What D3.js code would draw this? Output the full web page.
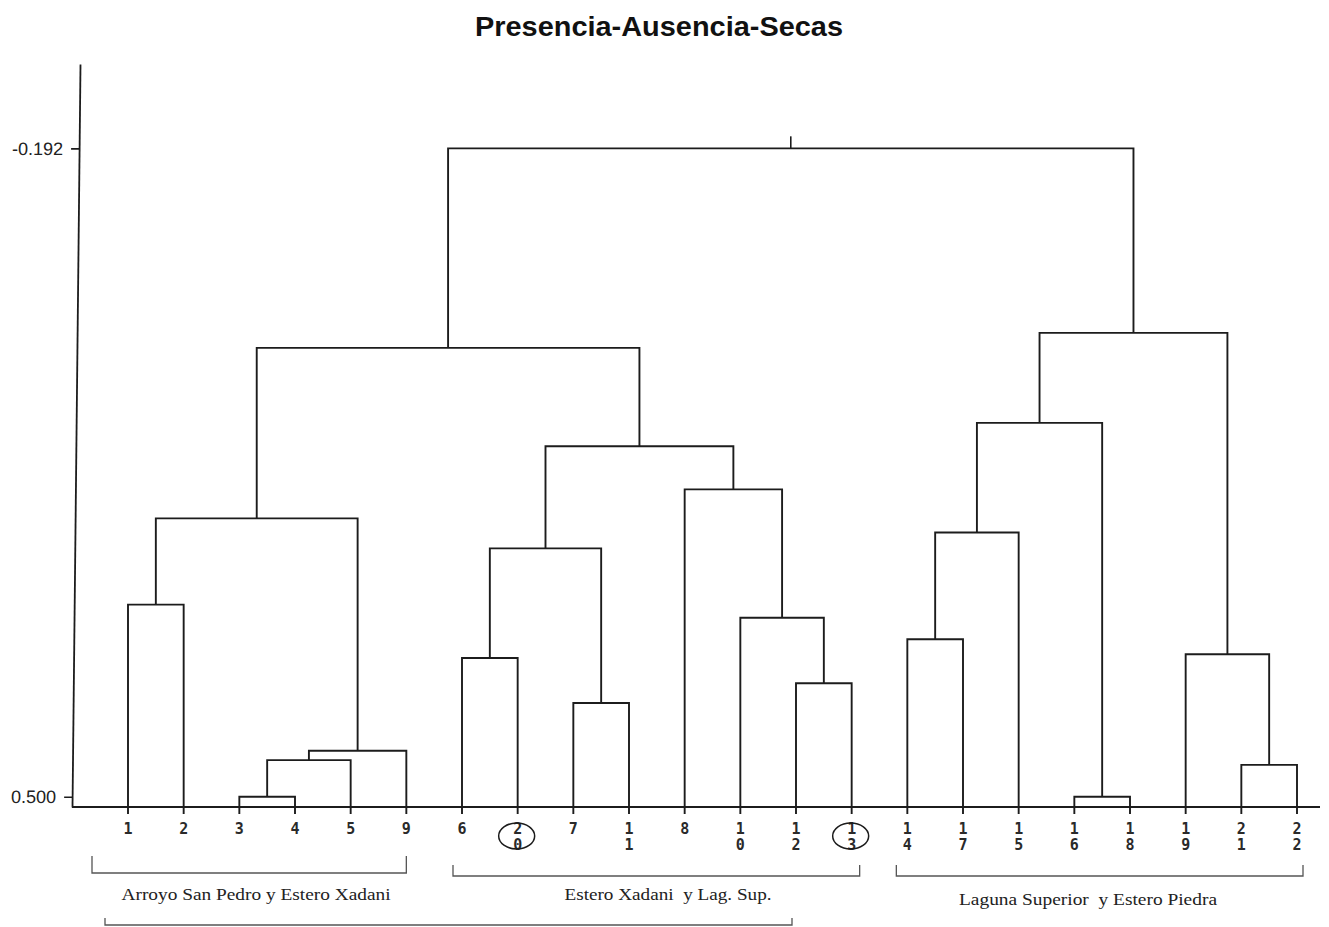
<!DOCTYPE html>
<html>
<head>
<meta charset="utf-8">
<script src="https://cdn.jsdelivr.net/npm/d3@7"></script>
<style>
  html, body { margin: 0; padding: 0; background: #fff; }
  svg { display: block; }
</style>
</head>
<body>
<svg id="chart" width="1329" height="927"></svg>
<script>
// ---------------- DATA ----------------
const chartTitle = "Presencia-Ausencia-Secas";
// leaves in dendrogram order (left to right)
const leafLabels = ["1","2","3","4","5","9","6","20","7","11","8","10","12","13","14","17","15","16","18","19","21","22"];
// linkage: node ids 0..21 are leaves (index in leafLabels), 22+ are merges in this order
const mergeA      = [2,  17, 22, 24, 20, 8,  12, 6,  19, 14, 11, 0,  29, 31, 33, 10, 34, 35, 36, 39, 40];
const mergeB      = [3,  18, 4,  5,  21, 9,  13, 7,  26, 15, 28, 1,  27, 16, 25, 32, 37, 23, 38, 30, 41];
const mergeHeight = [0.500,0.500,0.461,0.451,0.466,0.400,0.379,0.352,0.348,0.332,0.309,0.295,0.235,0.218,0.203,0.172,0.126,0.101,0.021,0.005,-0.192];
const leafLevel = 0.511;          // baseline value where leaves sit
const axisTop = -0.282;           // top of the vertical axis line
const yTicks = [-0.192, 0.500];
const circledLeaves = ["20","13"];
const groupNames = ["Arroyo San Pedro y Estero Xadani", "Estero Xadani  y Lag. Sup.", "Laguna Superior  y Estero Piedra", ""];
const groupFirst = ["1","6","14","1"];
const groupLast  = ["9","13","22","12"];

// ---------------- LAYOUT ----------------
const svg = d3.select("#chart");
const x = d3.scalePoint(leafLabels, [128, 1297]);
const y = d3.scaleLinear([axisTop, leafLevel], [64, 807]);
const ink = "#1c1c1c";

// title
svg.append("text")
  .attr("x", 659).attr("y", 36)
  .attr("text-anchor", "middle")
  .attr("font-family", "Liberation Sans, Arial, sans-serif")
  .attr("font-weight", "bold").attr("font-size", 27)
  .attr("textLength", 368).attr("lengthAdjust", "spacingAndGlyphs")
  .attr("fill", "#111")
  .text(chartTitle);

// y axis (slightly slanted as in the scanned original)
const axisG = svg.append("g")
  .attr("transform", "translate(80.7,0) skewX(-0.617)");
axisG.call(d3.axisLeft(y).tickValues(yTicks).tickFormat(d => d.toFixed(3)).tickSize(8).tickSizeOuter(0).tickPadding(8));
axisG.select(".domain").attr("stroke", ink).attr("stroke-width", 1.8);
axisG.selectAll(".tick line").attr("stroke", ink).attr("stroke-width", 1.6);
axisG.selectAll(".tick text")
  .attr("font-family", "Liberation Sans, Arial, sans-serif")
  .attr("font-size", 18).attr("fill", "#222");

// baseline
svg.append("line")
  .attr("x1", 72).attr("x2", 1320)
  .attr("y1", y(leafLevel)).attr("y2", y(leafLevel))
  .attr("stroke", ink).attr("stroke-width", 1.8);

// build tree nodes
const nodes = leafLabels.map(l => ({ x: x(l), h: leafLevel, leaf: true }));
mergeHeight.forEach((h, i) => {
  const a = nodes[mergeA[i]], b = nodes[mergeB[i]];
  nodes.push({ x: (a.x + b.x) / 2, h, a, b, leaf: false });
});
const bottomOf = n => n.leaf ? y(leafLevel) + 7 : y(n.h);
const merges = nodes.filter(n => !n.leaf);

svg.append("g").selectAll("path").data(merges).join("path")
  .attr("d", n => `M${n.a.x},${bottomOf(n.a)}V${y(n.h)}H${n.b.x}V${bottomOf(n.b)}`)
  .attr("fill", "none").attr("stroke", ink).attr("stroke-width", 1.9)
  .attr("stroke-linejoin", "miter");

// root stem
const root = nodes[nodes.length - 1];
svg.append("line")
  .attr("x1", root.x).attr("x2", root.x)
  .attr("y1", y(root.h)).attr("y2", y(root.h) - 12)
  .attr("stroke", ink).attr("stroke-width", 1.6);

// leaf labels (digits stacked vertically)
const lab = svg.append("g")
  .attr("font-family", "DejaVu Sans Mono, Liberation Mono, monospace")
  .attr("font-size", 15).attr("font-weight", "bold").attr("fill", "#2a2a2a")
  .attr("text-anchor", "middle");
leafLabels.forEach(l => {
  const t = lab.append("text").attr("x", x(l)).attr("y", 834);
  l.split("").forEach((c, i) => {
    t.append("tspan").attr("x", x(l)).attr("y", 834 + i * 16).text(c);
  });
});

// circled leaves
svg.append("g").selectAll("ellipse").data(circledLeaves).join("ellipse")
  .attr("cx", d => x(d) - 1).attr("cy", 836)
  .attr("rx", 18).attr("ry", 13)
  .attr("fill", "none").attr("stroke", ink).attr("stroke-width", 1.5);

// group brackets
const bracketGeom = [
  { dx0: -36, dx1: 0,  top: 856, bot: 873, ty: 900, tw: 269, tcx: 256 },
  { dx0: -9,  dx1: 8,  top: 865, bot: 876, ty: 900, tw: 207, tcx: 668 },
  { dx0: -11, dx1: 6,  top: 865, bot: 876, ty: 905, tw: 258, tcx: 1088 },
  { dx0: -23, dx1: -4, top: 918, bot: 925, ty: 0,   tw: 0,   tcx: 0 }
];
groupNames.forEach((name, i) => {
  const g = bracketGeom[i];
  const x0 = x(groupFirst[i]) + g.dx0, x1 = x(groupLast[i]) + g.dx1;
  svg.append("path")
    .attr("d", `M${x0},${g.top}V${g.bot}H${x1}V${g.top}`)
    .attr("fill", "none").attr("stroke", "#555").attr("stroke-width", 1.3);
  if (name) {
    svg.append("text")
      .attr("x", g.tcx).attr("y", g.ty)
      .attr("text-anchor", "middle")
      .attr("font-family", "Liberation Serif, Times New Roman, serif")
      .attr("font-size", 17).attr("fill", "#222")
      .attr("textLength", g.tw).attr("lengthAdjust", "spacingAndGlyphs")
      .attr("xml:space", "preserve")
      .text(name);
  }
});
</script>
</body>
</html>
